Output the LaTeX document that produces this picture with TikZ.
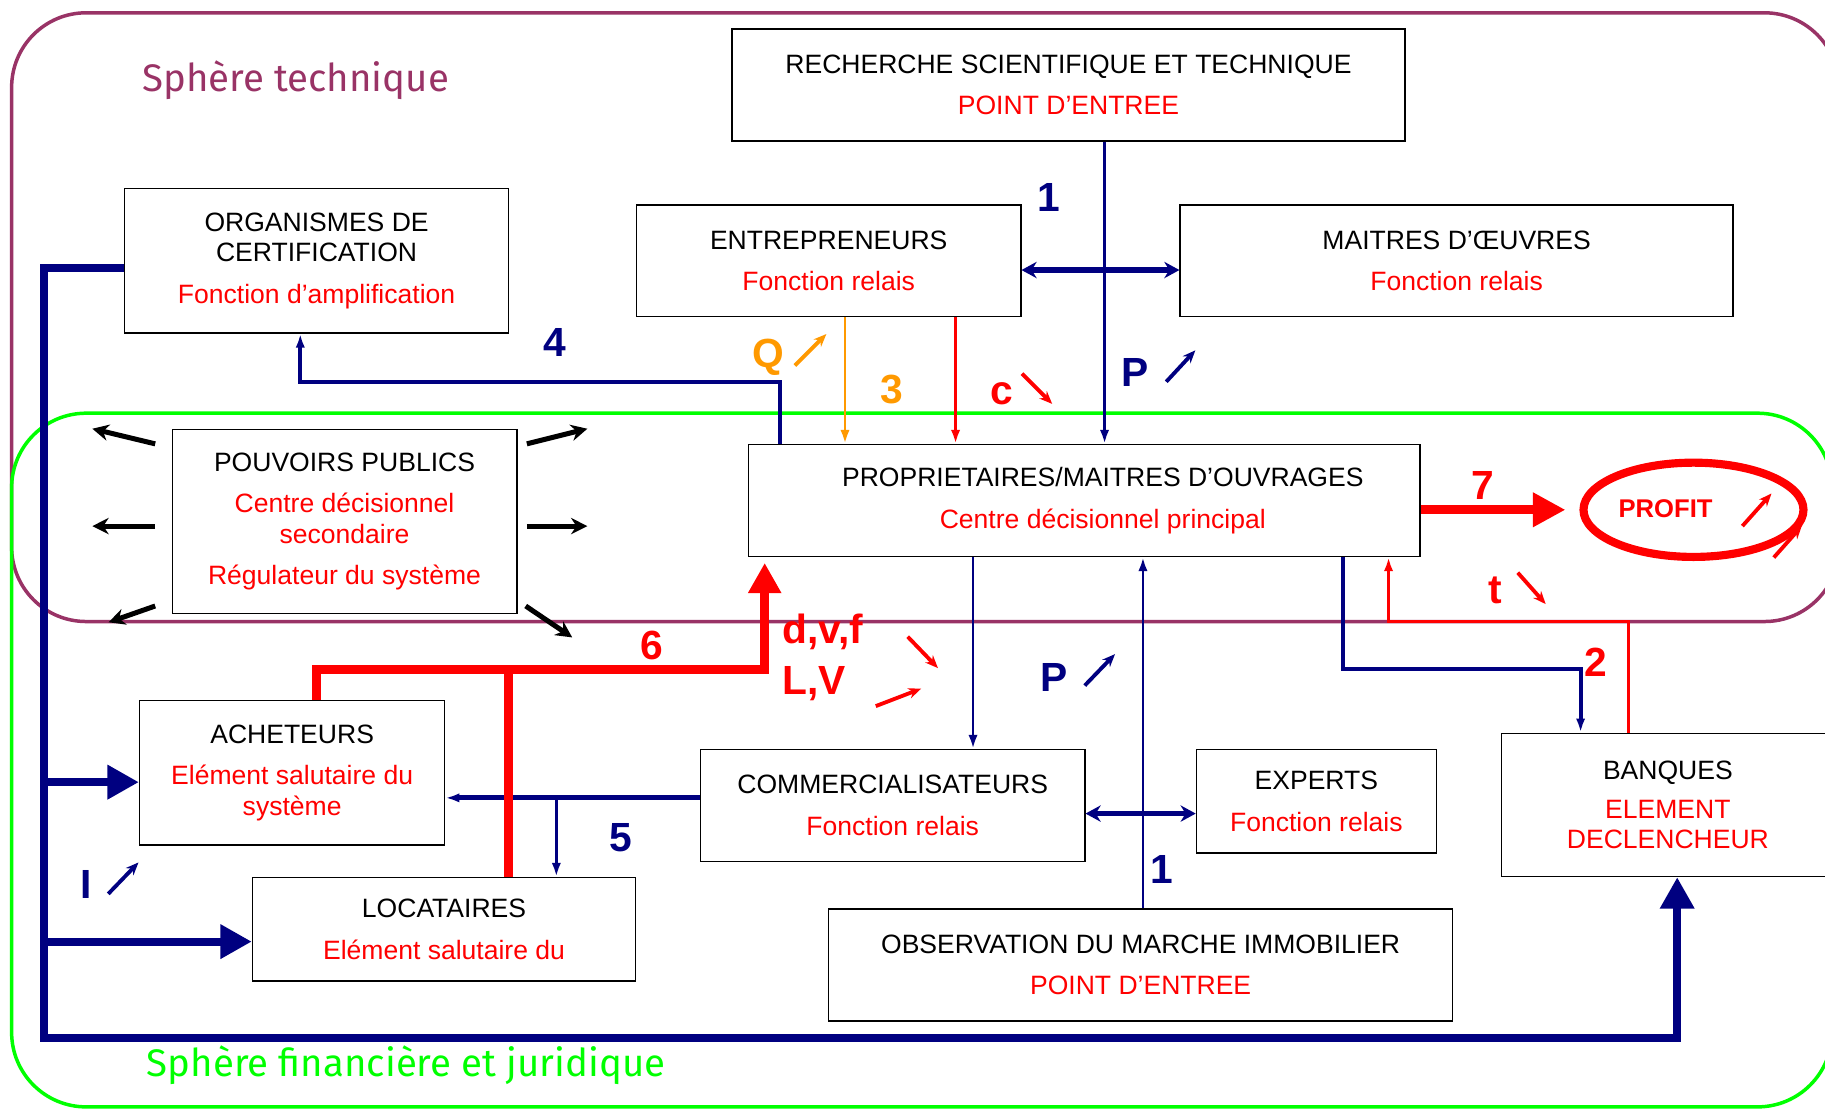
\documentclass[tikz,border=0pt]{standalone}
\usepackage{fontspec}
\setmainfont{Liberation Sans}
\newfontfamily\spherefont{Fira Sans}
\usetikzlibrary{arrows.meta,positioning,shapes.geometric}

\definecolor{navyblue}{RGB}{0,0,128}
\definecolor{spherepurple}{RGB}{153,51,102}
\definecolor{spheregreen}{RGB}{0,255,0}
\definecolor{qorange}{RGB}{255,153,0}

\newcommand{\boxfont}{\fontsize{22.8}{26.5}\selectfont}
\newcommand{\labfont}{\fontsize{35}{40}\selectfont\bfseries}
\newcommand{\rd}[1]{\textcolor{red}{#1}}

\tikzset{
  box/.style={draw, line width=1.3pt, fill=white, inner sep=0pt, align=center, font=\boxfont},
  lab/.style={inner sep=0pt, font=\labfont},
  sphere/.style={line width=3pt, rounded corners=64pt},
  spheretxt/.style={font=\spherefont\fontsize{33}{38}\selectfont},
  flowthin/.style={line width=2.5pt, -{Latex[length=12pt,width=8pt]}},
  flowmid/.style={line width=4.5pt, {Stealth[length=13pt,width=14pt]}-{Stealth[length=13pt,width=14pt]}},
  flowbig/.style={line width=7pt, -{Triangle[length=27pt,width=28pt]}},
  ppout/.style={line width=4.3pt, -{Stealth[length=14pt,width=14pt]}},
  trend/.style={line width=3.3pt, -{Stealth[length=11pt,width=9pt]}}
}

\begin{document}
\begin{tikzpicture}[x=1pt,y=-1pt]
        \useasboundingbox (0,0) rectangle (1568,953);
        \clip (0,0) rectangle (1568,953);

        % the two spheres
        \draw[spherepurple, sphere] (10,11) rectangle (1580,534);
        \draw[spheregreen, sphere] (10,355) rectangle (1574,951);
        \node[spherepurple, spheretxt] (sphtech) at (254,69) {Sphère technique};
        \node[spheregreen, spheretxt] (sphfin) at (349,915) {Sphère financière et juridique};

        % boxes
        \node[box, minimum width=578pt, minimum height=96pt] (recherche) at (918,73) {RECHERCHE SCIENTIFIQUE ET TECHNIQUE\\[9pt]\rd{POINT D’ENTREE}};
        \node[box, minimum width=330pt, minimum height=124pt] (organismes) at (272,224) {ORGANISMES DE\\CERTIFICATION\\[9pt]\rd{Fonction d’amplification}};
        \node[box, minimum width=330pt, minimum height=96pt] (entrepreneurs) at (712,224) {ENTREPRENEURS\\[9pt]\rd{Fonction relais}};
        \node[box, minimum width=475pt, minimum height=96pt] (moeuvres) at (1251.5,224) {MAITRES D’ŒUVRES\\[9pt]\rd{Fonction relais}};
        \node[box, minimum width=296pt, minimum height=158pt] (pouvoirs) at (296,448) {POUVOIRS PUBLICS\\[9pt]\rd{Centre décisionnel}\\\rd{secondaire}\\[9pt]\rd{Régulateur du système}};
        \node[box, minimum width=577pt, minimum height=96pt] (proprio) at (931.5,430) {\hspace*{32pt}PROPRIETAIRES/MAITRES D’OUVRAGES\\[9pt]\hspace*{32pt}\rd{Centre décisionnel principal}};
        \node[box, minimum width=262pt, minimum height=124pt] (acheteurs) at (251,664) {ACHETEURS\\[9pt]\rd{Elément salutaire du}\\\rd{système}};
        \node[box, minimum width=329pt, minimum height=89pt] (locataires) at (381.5,798.5) {LOCATAIRES\\[9pt]\rd{Elément salutaire du}};
        \node[box, minimum width=330pt, minimum height=96pt] (commerc) at (767,692) {COMMERCIALISATEURS\\[9pt]\rd{Fonction relais}};
        \node[box, minimum width=206pt, minimum height=89pt] (experts) at (1131,688.5) {EXPERTS\\[9pt]\rd{Fonction relais}};
        \node[box, minimum width=286pt, minimum height=123pt] (banques) at (1433,691.5) {BANQUES\\[7pt]\rd{ELEMENT}\\\rd{DECLENCHEUR}};
        \node[box, minimum width=536pt, minimum height=96pt] (observ) at (980,829) {OBSERVATION DU MARCHE IMMOBILIER\\[9pt]\rd{POINT D’ENTREE}};
        \node[ellipse, draw=red, line width=7pt, minimum width=189pt, minimum height=81pt, inner sep=0pt] (profit) at (1455,438) {};
        \node[red, inner sep=0pt, font=\fontsize{22}{26}\selectfont\bfseries] (profittxt) at (1431,437) {PROFIT};

        % columns and bends of the connectors
        \coordinate (rechCol) at (949,0);
        \coordinate (certCol) at (670,0);
        \coordinate (certBend) at (258,328);
        \coordinate (qCol) at (726,0);
        \coordinate (cCol) at (821,0);
        \coordinate (comCol) at (836,0);
        \coordinate (obsCol) at (982,0);
        \coordinate (profCol) at (1154,0);
        \coordinate (bankBend) at (1358,575);
        \coordinate (tCol) at (1399,0);
        \coordinate (tBend) at (1193,534);
        \coordinate (achCol) at (272,0);
        \coordinate (locCol) at (437,0);
        \coordinate (sixRow) at (657,575);
        \coordinate (fiveRow) at (0,685.5);
        \coordinate (fiveDrop) at (478,685.5);
        \coordinate (spineTop) at (38,230);
        \coordinate (spineBot) at (38,892);
        \coordinate (bankCol) at (1441,0);
        \coordinate (achRow) at (0,672);
        \coordinate (locRow) at (0,809);

        % sphere technique
        \draw[navyblue, flowthin] (recherche.south -| rechCol) -- (proprio.north -| rechCol);
        \draw[navyblue, flowmid] ([yshift=-8pt]entrepreneurs.east) -- ([yshift=-8pt]moeuvres.west);
        \draw[navyblue, flowthin, line width=3.5pt] (proprio.north -| certCol) |- (certBend) -- (organismes.south -| certBend);
        \draw[qorange, flowthin] (entrepreneurs.south -| qCol) -- (proprio.north -| qCol);
        \draw[red, flowthin] (entrepreneurs.south -| cCol) -- (proprio.north -| cCol);
        \draw[red, line width=8pt, -{Triangle[length=28pt,width=28pt]}] (proprio.east |- profit.west) -- ([xshift=-12pt]profit.west);

        % sphere financiere
        \draw[navyblue, flowthin] (proprio.south -| comCol) -- (commerc.north -| comCol);
        \draw[navyblue, flowthin] (observ.north -| obsCol) -- (proprio.south -| obsCol);
        \draw[navyblue, flowmid] ([yshift=-7pt]commerc.east) -- ([yshift=-10.5pt]experts.west);
        \draw[navyblue, flowthin, line width=3.5pt] (proprio.south -| profCol) |- (bankBend) -- (banques.north -| bankBend);
        \draw[red, flowthin, line width=3pt] (banques.north -| tCol) |- (tBend) -- (proprio.south -| tBend);
        \draw[navyblue, flowthin, line width=4.3pt] (commerc.west |- fiveRow) -- (acheteurs.east |- fiveRow);
        \draw[navyblue, flowthin] (fiveDrop) -- (locataires.north -| fiveDrop);
        \draw[red, line width=7.5pt, shorten >=5pt, -{Triangle[length=26pt,width=27pt]}] (acheteurs.north -| achCol) |- (sixRow) -- (proprio.south -| sixRow);
        \draw[red, line width=7.5pt] (locataires.north -| locCol) -- (locCol |- sixRow);

        % the big loop from the certification
        \draw[navyblue, flowbig] (organismes.west |- spineTop) -- (spineTop) -- (spineBot) -| (banques.south -| bankCol);
        \draw[navyblue, flowbig] (spineTop |- achRow) -- (acheteurs.west |- achRow);
        \draw[navyblue, flowbig] (spineTop |- locRow) -- (locataires.west |- locRow);

        % pouvoirs publics act on everything
        \foreach \anc/\dx/\dy/\ex/\ey in {north west/-14/-13/-68/0, west/-14/-4/-68/-4, south west/-14/7/-54/-7, north east/8/-13/60/0, east/8/-4/60/-4, south east/7/7/47/-20}
            \draw[ppout] ([shift={(\dx pt,\dy pt)}]pouvoirs.\anc) -- ([shift={(\ex pt,\ey pt)}]pouvoirs.\anc);

        % labels
        \node[lab, navyblue] (one) at (901,170) {1};
        \node[lab, navyblue] (four) at (477,294) {4};
        \node[lab, qorange] (qual) at (660,307) {Q};
        \node[lab, qorange] (three) at (766,335) {3};
        \node[lab, red] (cost) at (861,338) {c};
        \node[lab, navyblue] (prixa) at (975,320) {P};
        \node[lab, red] (seven) at (1274,417) {7};
        \node[lab, red] (taux) at (1285,507) {t};
        \node[lab, red] (six) at (560,555) {6};
        \node[lab, red, anchor=base west] (dvf) at (672,553) {d,v,f};
        \node[lab, red, anchor=base west] (lv) at (672,597) {L,V};
        \node[lab, navyblue] (prixb) at (906,582) {P};
        \node[lab, red] (two) at (1371,569) {2};
        \node[lab, navyblue] (five) at (533,720) {5};
        \node[lab, navyblue] (oneb) at (998,747) {1};
        \node[lab, navyblue] (inter) at (74,760) {I};

        % trends
        \draw[qorange, trend] ([shift={(23pt,-7pt)}]qual.center) -- ++(27,-27);
        \draw[red, trend] ([shift={(17pt,17pt)}]cost.center) -- ++(26,26);
        \draw[navyblue, trend] ([shift={(27pt,-8pt)}]prixa.center) -- ++(25,-27);
        \draw[navyblue, trend] ([shift={(26pt,-7pt)}]prixb.center) -- ++(26,-27);
        \draw[navyblue, trend] ([shift={(19pt,-8pt)}]inter.center) -- ++(26,-27);
        \draw[red, trend] ([shift={(73pt,-4pt)}]dvf.center) -- ++(26,27);
        \draw[red, trend] ([shift={(53pt,-19pt)}]lv.center) -- ++(39,-15);
        \draw[red, trend] ([shift={(19pt,15pt)}]taux.center) -- ++(24,27);
        \draw[red, trend] ([shift={(66pt,-15pt)}]profittxt.center) -- ++(25,-28);
        \draw[red, trend] ([shift={(69pt,-41pt)}]profit.center) -- ++(24,-27);
\end{tikzpicture}
\end{document}
